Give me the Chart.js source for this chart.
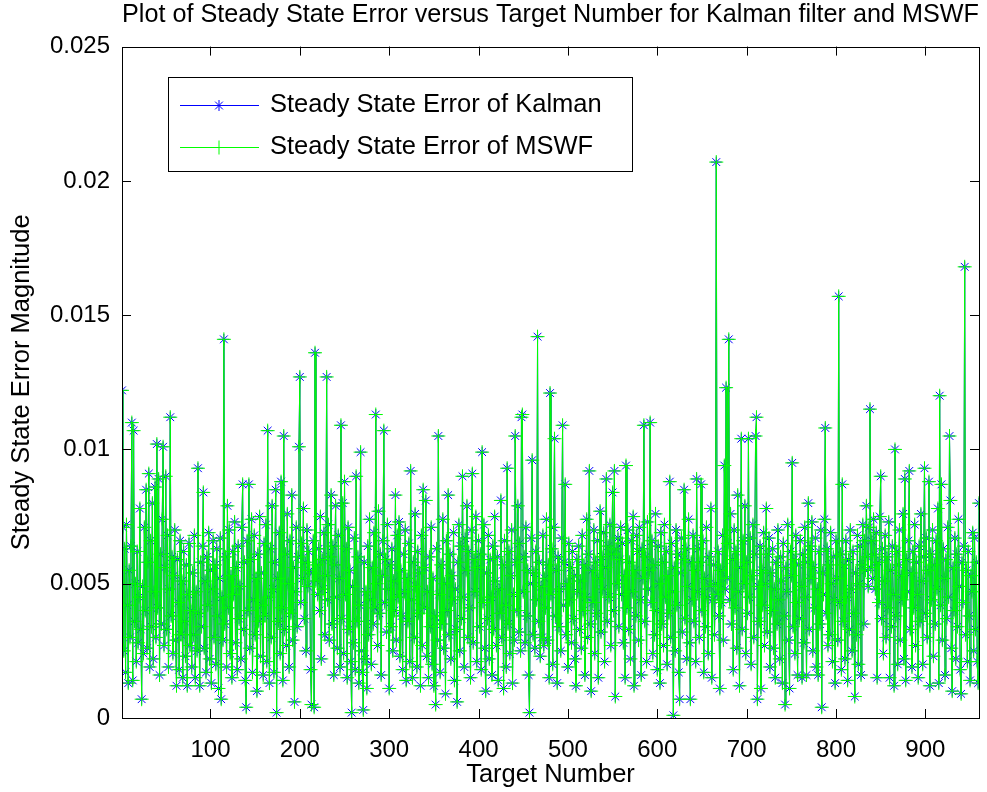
<!DOCTYPE html>
<html>
<head>
<meta charset="utf-8">
<title>Steady State Error versus Target Number</title>
<script src="https://cdn.jsdelivr.net/npm/chart.js@4.4.1/dist/chart.umd.min.js"></script>
<style>
  html, body { margin: 0; padding: 0; background: #fff; }
  canvas { display: block; }
</style>
</head>
<body>
<canvas id="chart" width="987" height="792" style="width:987px;height:792px"></canvas>
<script>
// Steady-state error per target (targets 1..960).
// The MSWF curve sits exactly on top of the Kalman one in the picture,
// so both series share the same read values.
const kalmanError = [
  0.0122, 0.0071, 0.0025, 0.0063, 0.0017, 0.0072, 0.0042, 0.0013, 0.0055, 0.0030,
  0.0064, 0.0110, 0.0014, 0.0107, 0.0036, 0.0050, 0.0021, 0.0062, 0.0028, 0.0045,
  0.0078, 0.0033, 0.0007, 0.0049, 0.0024, 0.0071, 0.0040, 0.0085, 0.0026, 0.0058,
  0.0091, 0.0019, 0.0066, 0.0034, 0.0080, 0.0022, 0.0047, 0.0086, 0.0030, 0.0102,
  0.0041, 0.0089, 0.0016, 0.0061, 0.0035, 0.0074, 0.0101, 0.0027, 0.0056, 0.0090,
  0.0033, 0.0068, 0.0019, 0.0048, 0.0112, 0.0038, 0.0060, 0.0024, 0.0053, 0.0070,
  0.0029, 0.0012, 0.0059, 0.0043, 0.0018, 0.0066, 0.0031, 0.0051, 0.0015, 0.0062,
  0.0036, 0.0023, 0.0057, 0.0012, 0.0046, 0.0065, 0.0027, 0.0040, 0.0019, 0.0054,
  // 81-160
  0.0031, 0.0068, 0.0015, 0.0047, 0.0025, 0.0093, 0.0039, 0.0012, 0.0058, 0.0034,
  0.0064, 0.0084, 0.0026, 0.0051, 0.0017, 0.0060, 0.0042, 0.0069, 0.0022, 0.0055,
  0.0013, 0.0048, 0.0066, 0.0030, 0.0057, 0.0020, 0.0063, 0.0038, 0.0011, 0.0052,
  0.0067, 0.0007, 0.0045, 0.0029, 0.0141, 0.0035, 0.0060, 0.0019, 0.0079, 0.0041,
  0.0070, 0.0024, 0.0053, 0.0015, 0.0062, 0.0046, 0.0073, 0.0028, 0.0056, 0.0018,
  0.0064, 0.0037, 0.0049, 0.0022, 0.0071, 0.0087, 0.0033, 0.0058, 0.0014, 0.0004,
  0.0066, 0.0040, 0.0087, 0.0026, 0.0059, 0.0074, 0.0017, 0.0044, 0.0068, 0.0031,
  0.0052, 0.0010, 0.0061, 0.0036, 0.0075, 0.0023, 0.0054, 0.0042, 0.0016, 0.0065,
  // 161-240
  0.0038, 0.0072, 0.0021, 0.0107, 0.0045, 0.0013, 0.0063, 0.0030, 0.0079, 0.0048,
  0.0017, 0.0058, 0.0085, 0.0002, 0.0052, 0.0036, 0.0069, 0.0024, 0.0088, 0.0041,
  0.0014, 0.0105, 0.0033, 0.0061, 0.0027, 0.0076, 0.0050, 0.0019, 0.0066, 0.0039,
  0.0083, 0.0029, 0.0056, 0.0006, 0.0047, 0.0071, 0.0034, 0.0060, 0.0101, 0.0127,
  0.0043, 0.0065, 0.0052, 0.0078, 0.0037, 0.0058, 0.0025, 0.0070, 0.0049, 0.0062,
  0.0055, 0.0018, 0.0005, 0.0054, 0.0066, 0.0004, 0.0136, 0.0051, 0.0057, 0.0046,
  0.0063, 0.0040, 0.0075, 0.0022, 0.0059, 0.0048, 0.0069, 0.0031, 0.0053, 0.0127,
  0.0044, 0.0072, 0.0029, 0.0060, 0.0083, 0.0035, 0.0064, 0.0016, 0.0057, 0.0079,
  // 241-320
  0.0045, 0.0026, 0.0068, 0.0052, 0.0019, 0.0109, 0.0037, 0.0080, 0.0024, 0.0088,
  0.0046, 0.0063, 0.0015, 0.0071, 0.0033, 0.0055, 0.0021, 0.0002, 0.0049, 0.0028,
  0.0067, 0.0018, 0.0090, 0.0036, 0.0060, 0.0013, 0.0042, 0.0099, 0.0025, 0.0017,
  0.0003, 0.0058, 0.0022, 0.0047, 0.0011, 0.0064, 0.0031, 0.0074, 0.0044, 0.0020,
  0.0056, 0.0035, 0.0069, 0.0041, 0.0113, 0.0050, 0.0027, 0.0077, 0.0039, 0.0061,
  0.0016, 0.0053, 0.0066, 0.0107, 0.0043, 0.0059, 0.0032, 0.0072, 0.0048, 0.0011,
  0.0057, 0.0034, 0.0063, 0.0025, 0.0051, 0.0040, 0.0083, 0.0029, 0.0068, 0.0045,
  0.0073, 0.0023, 0.0055, 0.0038, 0.0018, 0.0061, 0.0047, 0.0070, 0.0014, 0.0052,
  // 321-400
  0.0036, 0.0065, 0.0021, 0.0092, 0.0044, 0.0015, 0.0058, 0.0030, 0.0076, 0.0049,
  0.0019, 0.0062, 0.0039, 0.0054, 0.0012, 0.0068, 0.0027, 0.0085, 0.0041, 0.0056,
  0.0081, 0.0023, 0.0047, 0.0015, 0.0060, 0.0034, 0.0071, 0.0020, 0.0052, 0.0012,
  0.0038, 0.0005, 0.0063, 0.0029, 0.0105, 0.0046, 0.0017, 0.0057, 0.0035, 0.0074,
  0.0026, 0.0050, 0.0009, 0.0066, 0.0040, 0.0083, 0.0031, 0.0061, 0.0022, 0.0053,
  0.0044, 0.0069, 0.0014, 0.0048, 0.0033, 0.0006, 0.0058, 0.0072, 0.0025, 0.0064,
  0.0037, 0.0090, 0.0045, 0.0019, 0.0067, 0.0055, 0.0079, 0.0030, 0.0062, 0.0041,
  0.0015, 0.0070, 0.0091, 0.0028, 0.0059, 0.0047, 0.0075, 0.0021, 0.0056, 0.0066,
  // 401-480
  0.0034, 0.0061, 0.0018, 0.0099, 0.0043, 0.0072, 0.0026, 0.0010, 0.0054, 0.0037,
  0.0068, 0.0022, 0.0059, 0.0045, 0.0016, 0.0064, 0.0033, 0.0075, 0.0051, 0.0027,
  0.0060, 0.0014, 0.0048, 0.0039, 0.0081, 0.0030, 0.0057, 0.0011, 0.0066, 0.0042,
  0.0019, 0.0093, 0.0035, 0.0062, 0.0024, 0.0053, 0.0070, 0.0013, 0.0046, 0.0029,
  0.0105, 0.0058, 0.0040, 0.0079, 0.0032, 0.0065, 0.0025, 0.0112, 0.0113, 0.0047,
  0.0060, 0.0028, 0.0071, 0.0038, 0.0055, 0.0016, 0.0002, 0.0050, 0.0067, 0.0096,
  0.0031, 0.0054, 0.0026, 0.0062, 0.0044, 0.0142, 0.0036, 0.0058, 0.0023, 0.0049,
  0.0030, 0.0068, 0.0027, 0.0052, 0.0041, 0.0074, 0.0029, 0.0057, 0.0015, 0.0121,
  // 481-560
  0.0046, 0.0063, 0.0020, 0.0071, 0.0104, 0.0038, 0.0055, 0.0013, 0.0060, 0.0034,
  0.0048, 0.0025, 0.0067, 0.0109, 0.0042, 0.0058, 0.0087, 0.0031, 0.0050, 0.0019,
  0.0065, 0.0044, 0.0056, 0.0028, 0.0062, 0.0037, 0.0053, 0.0022, 0.0012, 0.0059,
  0.0047, 0.0064, 0.0033, 0.0051, 0.0026, 0.0068, 0.0040, 0.0057, 0.0016, 0.0045,
  0.0074, 0.0030, 0.0061, 0.0092, 0.0035, 0.0010, 0.0055, 0.0043, 0.0070, 0.0024,
  0.0058, 0.0039, 0.0066, 0.0015, 0.0052, 0.0077, 0.0032, 0.0060, 0.0048, 0.0069,
  0.0021, 0.0056, 0.0089, 0.0036, 0.0064, 0.0045, 0.0072, 0.0027, 0.0061, 0.0084,
  0.0040, 0.0092, 0.0008, 0.0063, 0.0050, 0.0067, 0.0034, 0.0059, 0.0071, 0.0046,
  // 561-640
  0.0065, 0.0028, 0.0053, 0.0015, 0.0094, 0.0041, 0.0070, 0.0033, 0.0058, 0.0022,
  0.0066, 0.0047, 0.0075, 0.0012, 0.0055, 0.0038, 0.0068, 0.0062, 0.0029, 0.0071,
  0.0044, 0.0016, 0.0063, 0.0052, 0.0109, 0.0036, 0.0060, 0.0021, 0.0073, 0.0048,
  0.0055, 0.0110, 0.0043, 0.0066, 0.0024, 0.0057, 0.0031, 0.0076, 0.0040, 0.0018,
  0.0064, 0.0050, 0.0013, 0.0069, 0.0035, 0.0058, 0.0027, 0.0072, 0.0045, 0.0062,
  0.0020, 0.0053, 0.0039, 0.0088, 0.0030, 0.0065, 0.0047, 0.0001, 0.0056, 0.0025,
  0.0070, 0.0042, 0.0061, 0.0017, 0.0007, 0.0054, 0.0067, 0.0032, 0.0059, 0.0085,
  0.0037, 0.0063, 0.0022, 0.0049, 0.0074, 0.0028, 0.0007, 0.0058, 0.0044, 0.0068,
  // 641-720
  0.0036, 0.0055, 0.0021, 0.0089, 0.0047, 0.0063, 0.0030, 0.0058, 0.0087, 0.0040,
  0.0066, 0.0017, 0.0052, 0.0034, 0.0071, 0.0045, 0.0024, 0.0060, 0.0049, 0.0078,
  0.0015, 0.0044, 0.0057, 0.0031, 0.0050, 0.0207, 0.0046, 0.0062, 0.0038, 0.0011,
  0.0055, 0.0043, 0.0068, 0.0029, 0.0094, 0.0048, 0.0123, 0.0052, 0.0065, 0.0141,
  0.0044, 0.0076, 0.0035, 0.0059, 0.0018, 0.0070, 0.0041, 0.0062, 0.0026, 0.0083,
  0.0047, 0.0012, 0.0056, 0.0104, 0.0033, 0.0066, 0.0050, 0.0079, 0.0024, 0.0058,
  0.0039, 0.0104, 0.0045, 0.0067, 0.0020, 0.0053, 0.0072, 0.0030, 0.0061, 0.0105,
  0.0112, 0.0007, 0.0049, 0.0036, 0.0064, 0.0011, 0.0055, 0.0042, 0.0069, 0.0027,
  // 721-800
  0.0050, 0.0078, 0.0032, 0.0061, 0.0067, 0.0019, 0.0054, 0.0040, 0.0063, 0.0026,
  0.0048, 0.0015, 0.0058, 0.0035, 0.0070, 0.0044, 0.0022, 0.0060, 0.0051, 0.0013,
  0.0065, 0.0038, 0.0005, 0.0056, 0.0047, 0.0072, 0.0029, 0.0011, 0.0062, 0.0053,
  0.0095, 0.0034, 0.0059, 0.0024, 0.0068, 0.0043, 0.0016, 0.0057, 0.0037, 0.0066,
  0.0049, 0.0015, 0.0061, 0.0028, 0.0071, 0.0045, 0.0016, 0.0058, 0.0080, 0.0033,
  0.0064, 0.0052, 0.0073, 0.0025, 0.0056, 0.0041, 0.0067, 0.0019, 0.0048, 0.0016,
  0.0062, 0.0035, 0.0070, 0.0004, 0.0054, 0.0046, 0.0074, 0.0108, 0.0039, 0.0063,
  0.0027, 0.0057, 0.0031, 0.0069, 0.0050, 0.0021, 0.0060, 0.0044, 0.0013, 0.0066,
  // 801-880
  0.0052, 0.0029, 0.0157, 0.0043, 0.0061, 0.0018, 0.0087, 0.0036, 0.0057, 0.0022,
  0.0066, 0.0045, 0.0014, 0.0059, 0.0033, 0.0070, 0.0048, 0.0025, 0.0062, 0.0039,
  0.0008, 0.0054, 0.0031, 0.0068, 0.0020, 0.0050, 0.0064, 0.0016, 0.0057, 0.0072,
  0.0035, 0.0066, 0.0055, 0.0079, 0.0060, 0.0049, 0.0071, 0.0115, 0.0056, 0.0066,
  0.0052, 0.0074, 0.0061, 0.0048, 0.0069, 0.0015, 0.0058, 0.0043, 0.0075, 0.0090,
  0.0037, 0.0063, 0.0024, 0.0051, 0.0068, 0.0030, 0.0060, 0.0041, 0.0073, 0.0015,
  0.0055, 0.0034, 0.0064, 0.0046, 0.0012, 0.0100, 0.0038, 0.0062, 0.0020, 0.0057,
  0.0070, 0.0029, 0.0053, 0.0044, 0.0076, 0.0022, 0.0089, 0.0014, 0.0059, 0.0047,
  // 881-960
  0.0066, 0.0092, 0.0033, 0.0054, 0.0019, 0.0062, 0.0041, 0.0072, 0.0027, 0.0058,
  0.0046, 0.0015, 0.0064, 0.0036, 0.0076, 0.0051, 0.0020, 0.0060, 0.0093, 0.0039,
  0.0067, 0.0030, 0.0055, 0.0088, 0.0012, 0.0061, 0.0044, 0.0070, 0.0023, 0.0057,
  0.0035, 0.0066, 0.0048, 0.0078, 0.0013, 0.0120, 0.0042, 0.0087, 0.0029, 0.0063,
  0.0052, 0.0016, 0.0059, 0.0037, 0.0071, 0.0045, 0.0105, 0.0081, 0.0026, 0.0010,
  0.0056, 0.0040, 0.0067, 0.0022, 0.0061, 0.0034, 0.0074, 0.0049, 0.0018, 0.0009,
  0.0058, 0.0043, 0.0064, 0.0168, 0.0031, 0.0055, 0.0021, 0.0062, 0.0038, 0.0014,
  0.0053, 0.0047, 0.0069, 0.0025, 0.0067, 0.0033, 0.0058, 0.0021, 0.0013, 0.0080,
];
const mswfError = kalmanError;   // identical to Kalman at this resolution
const targetNumbers = kalmanError.map((_, i) => i + 1);

const xTickValues = [100, 200, 300, 400, 500, 600, 700, 800, 900];
const yTickValues = [0, 0.005, 0.01, 0.015, 0.02, 0.025];
const yTickLabels = ['0', '0.005', '0.01', '0.015', '0.02', '0.025'];

const seriesNames = ['Steady State Error of Kalman', 'Steady State Error of MSWF'];
const chartTitle = 'Plot of Steady State Error versus Target Number for Kalman filter and MSWF';

const FONT = "'Liberation Sans', Arial, sans-serif";
const TEXT_SIZE = 25.5;   // title, axis titles, legend
const TICK_SIZE = 24;
const BLUE = '#0000ff';
const GREEN = '#00ff00';
const TICK_LEN = 9;

// MATLAB-style box: frame round the plot area with inward tick marks on all sides.
const matlabBox = {
  id: 'matlabBox',
  afterDatasetsDraw(chart) {
    const { ctx, chartArea: a, scales } = chart;
    ctx.save();
    ctx.strokeStyle = '#000';
    ctx.lineWidth = 1;
    ctx.beginPath();
    for (const v of xTickValues) {
      const px = Math.round(scales.x.getPixelForValue(v)) + 0.5;
      ctx.moveTo(px, a.bottom); ctx.lineTo(px, a.bottom - TICK_LEN);
      ctx.moveTo(px, a.top);    ctx.lineTo(px, a.top + TICK_LEN);
    }
    for (const v of yTickValues) {
      const py = Math.round(scales.y.getPixelForValue(v)) + 0.5;
      ctx.moveTo(a.left, py);  ctx.lineTo(a.left + TICK_LEN, py);
      ctx.moveTo(a.right, py); ctx.lineTo(a.right - TICK_LEN, py);
    }
    ctx.stroke();
    ctx.strokeRect(Math.round(a.left) + 0.5, Math.round(a.top) + 0.5,
                   Math.round(a.right - a.left), Math.round(a.bottom - a.top));
    ctx.restore();
  },
};

function drawMarker(ctx, style, x, y, r) {
  ctx.beginPath();
  ctx.moveTo(x - r, y); ctx.lineTo(x + r, y);
  ctx.moveTo(x, y - r); ctx.lineTo(x, y + r);
  if (style === 'star') {
    const d = r * Math.SQRT1_2;
    ctx.moveTo(x - d, y - d); ctx.lineTo(x + d, y + d);
    ctx.moveTo(x - d, y + d); ctx.lineTo(x + d, y - d);
  }
  ctx.stroke();
}

// Legend box inside the axes, upper left, like MATLAB's legend.
const boxLegend = {
  id: 'boxLegend',
  afterDraw(chart) {
    const { ctx } = chart;
    const box = { x: 168, y: 77, w: 464, h: 94 };
    const rows = [105, 147];
    ctx.save();
    ctx.fillStyle = '#fff';
    ctx.fillRect(box.x, box.y, box.w, box.h);
    ctx.strokeStyle = '#000';
    ctx.lineWidth = 1;
    ctx.strokeRect(box.x + 0.5, box.y + 0.5, box.w, box.h);
    chart.data.datasets.forEach((ds, i) => {
      const y = rows[i] + 0.5;
      ctx.strokeStyle = ds.borderColor;
      ctx.lineWidth = 1;
      ctx.beginPath();
      ctx.moveTo(180, y); ctx.lineTo(259, y);
      ctx.stroke();
      drawMarker(ctx, ds.pointStyle, 219, y, ds.pointRadius);
      ctx.fillStyle = '#000';
      ctx.font = TEXT_SIZE + 'px ' + FONT;
      ctx.textBaseline = 'middle';
      ctx.textAlign = 'left';
      ctx.fillText(ds.label, 270, rows[i]);
    });
    ctx.restore();
  },
};

const toPoints = arr => arr.map((v, i) => ({ x: targetNumbers[i], y: v }));

new Chart(document.getElementById('chart'), {
  type: 'line',
  data: {
    datasets: [
      {
        label: seriesNames[0],
        data: toPoints(kalmanError),
        borderColor: BLUE,
        backgroundColor: BLUE,
        borderWidth: 1,
        pointStyle: 'star',
        pointRadius: 5.5,
        pointBorderColor: BLUE,
        pointBorderWidth: 1,
        tension: 0,
        order: 1,
      },
      {
        label: seriesNames[1],
        data: toPoints(mswfError),
        borderColor: GREEN,
        backgroundColor: GREEN,
        borderWidth: 1,
        pointStyle: 'cross',
        pointRadius: 7,
        pointBorderColor: GREEN,
        pointBorderWidth: 1,
        tension: 0,
        order: 0,   // drawn on top, as in the original
      },
    ],
  },
  options: {
    responsive: false,
    animation: false,
    devicePixelRatio: 1,
    layout: { padding: { left: 0, right: 7, top: 0, bottom: 0 } },
    scales: {
      x: {
        type: 'linear',
        min: 1,
        max: targetNumbers.length,
        grid: { display: false },
        border: { display: false },
        afterBuildTicks: s => { s.ticks = xTickValues.map(v => ({ value: v })); },
        afterFit: s => { s.height = 74; },
        ticks: {
          color: '#000',
          padding: 10,
          maxRotation: 0,
          font: { family: FONT, size: TICK_SIZE },
          callback: v => String(v),
        },
        title: {
          display: true,
          text: 'Target Number',
          color: '#000',
          padding: { top: 0, bottom: 2 },
          font: { family: FONT, size: TEXT_SIZE },
        },
      },
      y: {
        min: 0,
        max: 0.025,
        grid: { display: false },
        border: { display: false },
        afterBuildTicks: s => { s.ticks = yTickValues.map(v => ({ value: v })); },
        afterFit: s => { s.width = 122; },
        ticks: {
          color: '#000',
          padding: 4,
          font: { family: FONT, size: TICK_SIZE },
          callback: (v) => yTickLabels[yTickValues.indexOf(v)] ?? '',
        },
        title: {
          display: true,
          text: 'Steady State Error Magnitude',
          color: '#000',
          padding: { top: 7, bottom: 0 },
          font: { family: FONT, size: TEXT_SIZE },
        },
      },
    },
    plugins: {
      legend: { display: false },
      tooltip: { enabled: false },
      title: {
        display: true,
        fullSize: false,
        text: chartTitle,
        color: '#000',
        padding: { top: 0, bottom: 16 },
        font: { family: FONT, size: TEXT_SIZE, weight: 'normal' },
      },
    },
  },
  plugins: [matlabBox, boxLegend],
});
</script>
</body>
</html>
